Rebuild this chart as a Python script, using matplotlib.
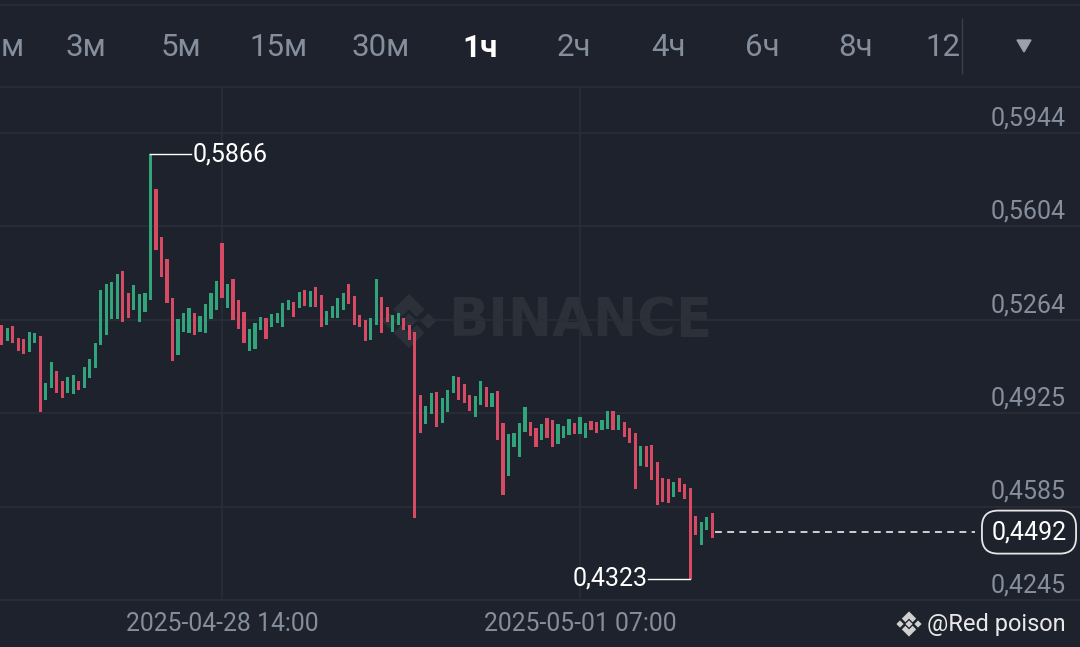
import matplotlib
matplotlib.use("Agg")
import matplotlib.pyplot as plt
import matplotlib.transforms as mtransforms
from matplotlib.patches import Polygon
import numpy as np

# ---------------- data (hourly candles) ----------------
highs = [
    0.5245, 0.5234, 0.5241, 0.5198, 0.5194, 0.5220, 0.5216, 0.5205, 0.5034, 0.5110,
    0.5078, 0.5041, 0.5056, 0.5063, 0.5041, 0.5092, 0.5121, 0.5180, 0.5372, 0.5394,
    0.5402, 0.5431, 0.5442, 0.5362, 0.5391, 0.5358, 0.5362, 0.5866, 0.5740, 0.5565,
    0.5485, 0.5343, 0.5267, 0.5289, 0.5307, 0.5289, 0.5278, 0.5322, 0.5362, 0.5405,
    0.5544, 0.5394, 0.5412, 0.5336, 0.5292, 0.5230, 0.5252, 0.5274, 0.5271, 0.5285,
    0.5289, 0.5325, 0.5336, 0.5329, 0.5365, 0.5372, 0.5369, 0.5383, 0.5354, 0.5296,
    0.5314, 0.5343, 0.5362, 0.5394, 0.5351, 0.5281, 0.5263, 0.5271, 0.5412, 0.5347,
    0.5311, 0.5281, 0.5289, 0.5271, 0.5245, 0.5220, 0.4990, 0.4950, 0.4998, 0.5001,
    0.4979, 0.5008, 0.5059, 0.5056, 0.5030, 0.4990, 0.4987, 0.5041, 0.5019, 0.4998,
    0.5005, 0.4888, 0.4848, 0.4852, 0.4888, 0.4947, 0.4892, 0.4870, 0.4885, 0.4906,
    0.4899, 0.4885, 0.4877, 0.4903, 0.4888, 0.4910, 0.4888, 0.4895, 0.4892, 0.4899,
    0.4932, 0.4932, 0.4917, 0.4892, 0.4870, 0.4852, 0.4805, 0.4805, 0.4808, 0.4746,
    0.4688, 0.4684, 0.4674, 0.4688, 0.4666, 0.4652, 0.4550, 0.4528, 0.4546, 0.4561,
]
lows = [
    0.5172, 0.5187, 0.5180, 0.5150, 0.5140, 0.5147, 0.5180, 0.4928, 0.4972, 0.5016,
    0.4998, 0.4979, 0.4998, 0.4994, 0.5008, 0.5016, 0.5052, 0.5089, 0.5172, 0.5209,
    0.5267, 0.5267, 0.5256, 0.5271, 0.5300, 0.5256, 0.5292, 0.5336, 0.5518, 0.5420,
    0.5325, 0.5114, 0.5136, 0.5220, 0.5216, 0.5209, 0.5220, 0.5216, 0.5267, 0.5300,
    0.5343, 0.5307, 0.5263, 0.5230, 0.5180, 0.5150, 0.5158, 0.5227, 0.5194, 0.5238,
    0.5252, 0.5238, 0.5300, 0.5274, 0.5307, 0.5314, 0.5311, 0.5311, 0.5238, 0.5245,
    0.5271, 0.5271, 0.5300, 0.5322, 0.5245, 0.5238, 0.5187, 0.5190, 0.5245, 0.5216,
    0.5256, 0.5220, 0.5245, 0.5227, 0.5190, 0.4543, 0.4852, 0.4885, 0.4921, 0.4874,
    0.4888, 0.4928, 0.4998, 0.4972, 0.4961, 0.4932, 0.4910, 0.4954, 0.4947, 0.4947,
    0.4826, 0.4626, 0.4695, 0.4801, 0.4764, 0.4855, 0.4841, 0.4801, 0.4826, 0.4834,
    0.4801, 0.4812, 0.4834, 0.4845, 0.4848, 0.4848, 0.4834, 0.4863, 0.4852, 0.4863,
    0.4866, 0.4863, 0.4863, 0.4837, 0.4815, 0.4648, 0.4732, 0.4728, 0.4681, 0.4590,
    0.4601, 0.4597, 0.4619, 0.4637, 0.4612, 0.4323, 0.4481, 0.4444, 0.4499, 0.4470,
]
# 1 = rising (green) candle, 0 = falling (red) candle
rising = [
    0, 1, 0, 0, 0, 1, 1, 0, 1, 1,
    0, 0, 1, 1, 0, 1, 1, 1, 1, 1,
    1, 1, 0, 0, 1, 1, 1, 1, 0, 0,
    0, 0, 1, 1, 1, 0, 1, 1, 1, 1,
    0, 1, 0, 0, 0, 1, 1, 1, 0, 1,
    1, 1, 1, 0, 1, 0, 1, 0, 0, 1,
    1, 1, 1, 0, 0, 0, 0, 1, 1, 0,
    0, 1, 1, 0, 0, 0, 0, 1, 1, 0,
    1, 1, 1, 0, 0, 0, 1, 1, 0, 1,
    0, 0, 1, 1, 1, 1, 0, 0, 1, 0,
    0, 1, 1, 1, 0, 1, 1, 0, 0, 1,
    1, 0, 1, 0, 0, 0, 1, 0, 0, 0,
    0, 0, 1, 0, 0, 0, 0, 1, 1, 0,
]
last_price = 0.4492
last_label = "0,4492"
max_label = "0,5866"
min_label = "0,4323"
price_levels = [0.5944, 0.5604, 0.5264, 0.4925, 0.4585, 0.4245]
price_labels = ["0,5944", "0,5604", "0,5264", "0,4925", "0,4585", "0,4245"]
time_tick_idx = [40, 105]
time_labels = ["2025-04-28 14:00", "2025-05-01 07:00"]
intervals = ["м", "3м", "5м", "15м", "30м", "1ч", "2ч", "4ч", "6ч", "8ч", "12"]
active_interval = "1ч"

# ---------------- style ----------------
BG = "#1e222c"
GRID = "#2a2e38"
TXT = "#848e9c"
GREEN = "#31a47c"
RED = "#d64b63"
FONT = "Roboto"

W, H = 1080, 647
fig = plt.figure(figsize=(W / 100, H / 100), dpi=100, facecolor=BG)

# pixel-space background axes for decorations
bg = fig.add_axes([0, 0, 1, 1], zorder=0)
bg.set_xlim(0, W)
bg.set_ylim(H, 0)
bg.axis("off")
bg.set_facecolor(BG)

# chart axes
top_px, bot_px = 87, 600
ax = fig.add_axes([0, (H - bot_px) / H, 1, (bot_px - top_px) / H], zorder=1)
ax.set_facecolor("none")
px_per_unit = 93.4 / 0.03398
ax.set_ylim(price_levels[-1], price_levels[-1] + (bot_px - top_px) / px_per_unit)
cw = 5.508
ax.set_xlim(-1.7 / cw, (W - 1.7) / cw)
for s in ax.spines.values():
    s.set_visible(False)
ax.set_yticks(price_levels)
ax.set_xticks(time_tick_idx)
ax.tick_params(length=0, labelleft=False, labelbottom=False)
ax.grid(True, color=GRID, lw=1.2)

# toolbar lines
bg.hlines([5, 87, 600], 0, W, color=GRID, lw=1.2)
bg.vlines([962], 18, 74, color="#3a3f4a", lw=1)

# toolbar labels
tb_x = [1, 86, 181, 279, 381, 480, 574, 668, 762, 856, 943]
for k, (x, lab) in enumerate(zip(tb_x, intervals)):
    act = lab == active_interval
    bg.text(x, 48, lab, ha="left" if k == 0 else "center", va="center",
            fontsize=22.5, family=FONT, color="white" if act else TXT,
            fontweight="bold" if act else "normal")
bg.add_patch(Polygon([[1017, 40], [1031, 40], [1024, 52]], closed=True,
                     color="#9aa1ab", zorder=6))


def binance_logo(axis, cx, cy, sc, color, z=1):
    shapes = [
        [(0, 18), (18, 0), (0, -18), (-18, 0)],
        [(45, 18), (63, 0), (45, -18), (27, 0)],
        [(-45, 18), (-27, 0), (-45, -18), (-63, 0)],
        [(0, 63), (36, 27), (18, 9), (0, 27), (-18, 9), (-36, 27)],
        [(0, -63), (36, -27), (18, -9), (0, -27), (-18, -9), (-36, -27)],
    ]
    for sh in shapes:
        pts = [(cx + x * sc, cy - y * sc) for x, y in sh]
        axis.add_patch(Polygon(pts, closed=True, color=color, lw=0, zorder=z))


# watermark
WM = "#2b3039"
binance_logo(bg, 409, 321, 0.43, WM)
bg.text(580, 321, "BINANCE", ha="center", va="center", fontsize=38,
        family="DejaVu Sans", fontweight="bold", color=WM)

# candles
x = np.arange(len(highs))
hi = np.array(highs)
lo = np.array(lows)
cols = [GREEN if r else RED for r in rising]
ax.bar(x, hi - lo, bottom=lo, width=0.58, color=cols, linewidth=0, zorder=3)

# right price labels
ytrans = mtransforms.blended_transform_factory(bg.transData, ax.transData)
for lv, lab in zip(price_levels, price_labels):
    ax.annotate(lab, xy=(1066, lv), xycoords=ytrans, xytext=(0, 10.5),
                textcoords="offset points", ha="right", va="center",
                fontsize=18, family=FONT, color=TXT, annotation_clip=False)

# last price dashed line + box
last_idx = len(highs) - 1
ax.hlines(last_price, last_idx + 0.5, (975 - 1.7) / cw, colors="white",
          linestyles=(0, (4.5, 3.5)), lw=1.1, zorder=4)
ax.annotate(last_label, xy=(1029, last_price), xycoords=ytrans,
            ha="center", va="center",
            fontsize=18, family=FONT, color="white", annotation_clip=False,
            bbox=dict(boxstyle="round,pad=0.38,rounding_size=0.65", fc=BG,
                      ec="#e6e6e6", lw=1.3))

# max / min annotations
imax = int(np.argmax(hi))
imin = int(np.argmin(lo))
ax.plot([imax, imax + 7.3], [hi[imax], hi[imax]], color="white", lw=1, zorder=4)
ax.text(imax + 7.6, hi[imax], max_label, ha="left", va="center", fontsize=18,
        family=FONT, color="white", zorder=5)
ax.plot([imin - 7.6, imin], [lo[imin], lo[imin]], color="white", lw=1, zorder=4)
ax.text(imin - 7.8, lo[imin], min_label, ha="right", va="center", fontsize=18,
        family=FONT, color="white", zorder=5)

# time labels
xtrans = mtransforms.blended_transform_factory(ax.transData, bg.transData)
for i, lab in zip(time_tick_idx, time_labels):
    bg.text(i, 624, lab, transform=xtrans, ha="center", va="center",
            fontsize=17.8, family=FONT, color=TXT)

# bottom-right user mark
binance_logo(bg, 909, 624, 0.2, "#d0d0d0", z=3)
bg.text(927, 624, "@Red poison", ha="left", va="center", fontsize=17,
        family=FONT, color="#e8e8e8")

fig.savefig("out.png", dpi=100, facecolor=BG)
